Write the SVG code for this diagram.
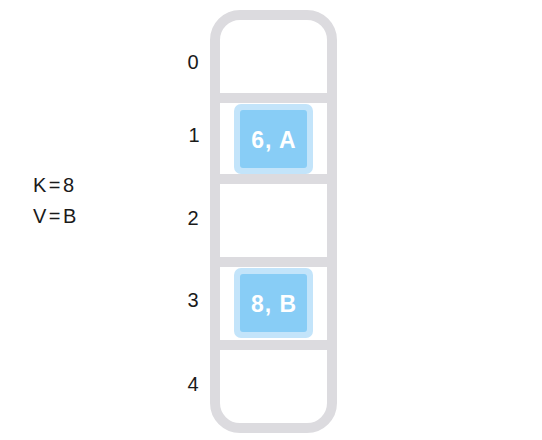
<svg xmlns="http://www.w3.org/2000/svg" width="542" height="440" viewBox="0 0 542 440">
<style>
.frame{fill:none;stroke:#dcdbdf;stroke-width:10}
.bar{stroke:#dcdbdf;stroke-width:10}
.lbl{font-family:"Liberation Sans",Arial,sans-serif;font-size:20px;fill:#1a1a1a}
.idx{text-anchor:middle}
.kv{letter-spacing:2.5px}
.outer{fill:#c3e4fa}
.inner{fill:#88cdf6}
.val{font-family:"Liberation Sans",Arial,sans-serif;font-size:23px;font-weight:bold;fill:#ffffff;text-anchor:middle;letter-spacing:1px}
</style>
<rect width="542" height="440" fill="#ffffff"/>
<g id="array">
<rect class="frame" x="215" y="15" width="117" height="413" rx="25"/>
<line class="bar" x1="215" y1="98" x2="332" y2="98"/>
<line class="bar" x1="215" y1="179" x2="332" y2="179"/>
<line class="bar" x1="215" y1="262" x2="332" y2="262"/>
<line class="bar" x1="215" y1="345" x2="332" y2="345"/>
</g>
<g id="indices">
<text class="lbl idx" x="193" y="69">0</text>
<text class="lbl idx" x="194" y="142">1</text>
<text class="lbl idx" x="193" y="225">2</text>
<text class="lbl idx" x="193" y="307">3</text>
<text class="lbl idx" x="193" y="391">4</text>
</g>
<g id="kv">
<text class="lbl kv" x="33" y="192">K=8</text>
<text class="lbl kv" x="33" y="223">V=B</text>
</g>
<g id="entry1">
<rect class="outer" x="234" y="104" width="79" height="70" rx="7"/>
<rect class="inner" x="240" y="110" width="67" height="58" rx="3"/>
<text class="val" x="274" y="148">6, A</text>
</g>
<g id="entry3">
<rect class="outer" x="234" y="268" width="79" height="70" rx="7"/>
<rect class="inner" x="240" y="274" width="67" height="58" rx="3"/>
<text class="val" x="274" y="312">8, B</text>
</g>
</svg>
